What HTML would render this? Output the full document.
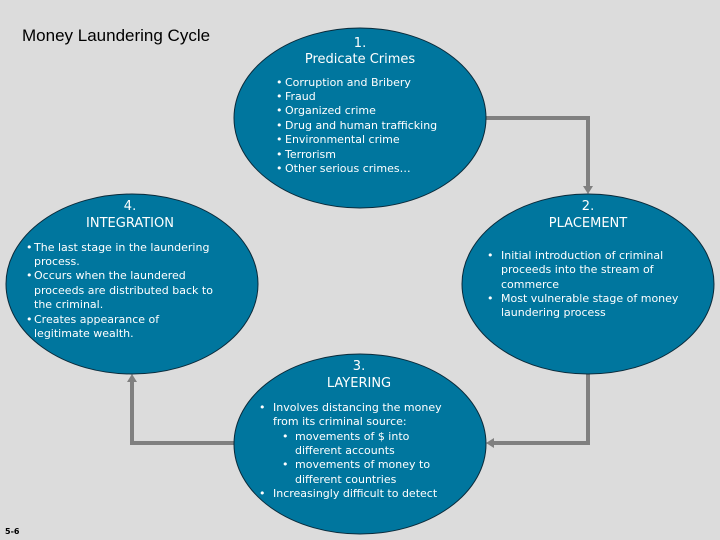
<!DOCTYPE html>
<html><head><meta charset="utf-8"><style>
html,body{margin:0;padding:0;background:#dcdcdc;}
svg{display:block;}
.t{font-family:"DejaVu Sans","Liberation Sans",sans-serif;fill:#fff;font-size:11px;}
.h{font-family:"DejaVu Sans","Liberation Sans",sans-serif;fill:#fff;font-size:13px;text-anchor:middle;}
</style></head><body>
<svg width="720" height="540" viewBox="0 0 720 540" xmlns="http://www.w3.org/2000/svg">
<rect width="720" height="540" fill="#dcdcdc"/>
<text x="22" y="41" font-family="Liberation Sans, Arial, sans-serif" font-size="17" fill="#000">Money Laundering Cycle</text>
<text x="5" y="534" font-family="DejaVu Sans, sans-serif" font-size="8" font-weight="bold" fill="#000">5-6</text>
<g stroke="#808080" stroke-width="4" fill="none">
<polyline points="485,118 588,118 588,188"/>
<polyline points="588,373 588,443 494,443"/>
<polyline points="234,443 132,443 132,381"/>
</g>
<g fill="#808080">
<polygon points="583,186 593,186 588,194"/>
<polygon points="494,438 494,448 486,443"/>
<polygon points="127,382 137,382 132,374"/>
</g>
<g fill="#00769e" stroke="#0a2a3a" stroke-width="1">
<ellipse cx="360" cy="118" rx="126" ry="90"/>
<ellipse cx="588" cy="284" rx="126" ry="90"/>
<ellipse cx="360" cy="444" rx="126" ry="90"/>
<ellipse cx="132" cy="284" rx="126" ry="90"/>
</g>
<text class="h" x="360" y="47">1.</text>
<text class="h" x="360" y="63">Predicate Crimes</text>
<g class="t">
<text x="276" y="86">•</text><text x="285" y="86">Corruption and Bribery</text>
<text x="276" y="100">•</text><text x="285" y="100">Fraud</text>
<text x="276" y="114">•</text><text x="285" y="114">Organized crime</text>
<text x="276" y="129">•</text><text x="285" y="129">Drug and human trafficking</text>
<text x="276" y="143">•</text><text x="285" y="143">Environmental crime</text>
<text x="276" y="158">•</text><text x="285" y="158">Terrorism</text>
<text x="276" y="172">•</text><text x="285" y="172">Other serious crimes…</text>
</g>
<text class="h" x="588" y="210">2.</text>
<text class="h" x="588" y="227">PLACEMENT</text>
<g class="t">
<text x="487" y="259">•</text><text x="501" y="259">Initial introduction of criminal</text>
<text x="501" y="273">proceeds into the stream of</text>
<text x="501" y="288">commerce</text>
<text x="487" y="302">•</text><text x="501" y="302">Most vulnerable stage of money</text>
<text x="501" y="316">laundering process</text>
</g>
<text class="h" x="130" y="210">4.</text>
<text class="h" x="130" y="227">INTEGRATION</text>
<g class="t">
<text x="26" y="251">•</text><text x="34" y="251">The last stage in the laundering</text>
<text x="34" y="265">process.</text>
<text x="26" y="279">•</text><text x="34" y="279">Occurs when the laundered</text>
<text x="34" y="294">proceeds are distributed back to</text>
<text x="34" y="308">the criminal.</text>
<text x="26" y="323">•</text><text x="34" y="323">Creates appearance of</text>
<text x="34" y="337">legitimate wealth.</text>
</g>
<text class="h" x="359" y="370">3.</text>
<text class="h" x="359" y="387">LAYERING</text>
<g class="t">
<text x="259" y="411">•</text><text x="273" y="411">Involves distancing the money</text>
<text x="273" y="425">from its criminal source:</text>
<text x="282" y="440">•</text><text x="295" y="440">movements of $ into</text>
<text x="295" y="454">different accounts</text>
<text x="282" y="468">•</text><text x="295" y="468">movements of money to</text>
<text x="295" y="483">different countries</text>
<text x="259" y="497">•</text><text x="273" y="497">Increasingly difficult to detect</text>
</g>
</svg>
</body></html>
